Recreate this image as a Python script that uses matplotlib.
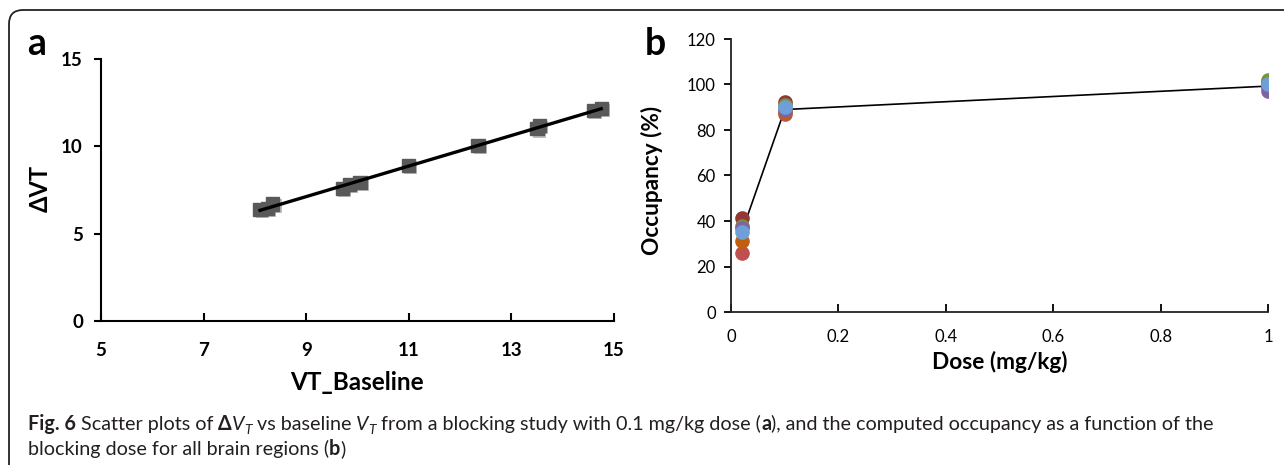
import numpy as np
import matplotlib.pyplot as plt
import matplotlib.patheffects as pe
from matplotlib.patches import FancyBboxPatch
from matplotlib.transforms import IdentityTransform

# panel a: delta VT vs baseline VT
vt_baseline = [8.1, 8.25, 8.35, 9.7, 9.85, 10.05, 11.0, 12.35, 13.5, 13.55, 14.6, 14.75]
delta_vt = [6.4, 6.45, 6.7, 7.6, 7.8, 7.95, 8.9, 10.05, 11.0, 11.2, 12.05, 12.15]

# panel b: occupancy per region vs dose
doses = [0.02, 0.1, 1.0]
region_colors = ['#953735', '#C0504D', '#C0600E', '#77933C', '#8064A2', '#6F9FD8']
occ_darkred = [41.5, 92.5, 101.0]
occ_red = [26.0, 87.0, 99.0]
occ_orange = [31.0, 88.0, 99.5]
occ_green = [38.0, 91.0, 102.0]
occ_purple = [37.0, 89.0, 97.0]
occ_blue = [35.0, 90.0, 100.0]
occ_mean = [35.0, 89.0, 99.3]

W, H = 1284, 465
fig = plt.figure(figsize=(W / 100, H / 100), dpi=100)
fig.patch.set_facecolor('white')
FONT = ['Lato', 'DejaVu Sans']
plt.rcParams['font.family'] = FONT


def px(x, y):
    return x / W, 1 - y / H


# rounded frame
frame = FancyBboxPatch((9, -40), 1320, H - 10 + 40, boxstyle='round,pad=0,rounding_size=14',
                       transform=IdentityTransform(), fill=False, ec='#222222', lw=1.3)
fig.patches.append(frame)

# ---- panel a
l, b = px(101, 321)
r, t = px(614, 59)
ax1 = fig.add_axes([l, b, r - l, t - b])
ax1.plot(vt_baseline, delta_vt, 's', ms=9.5, color='#595959', mec='#595959',
         path_effects=[pe.SimplePatchShadow(offset=(1.5, -1.5), shadow_rgbFace='0.5', alpha=0.5), pe.Normal()])
k, c = np.polyfit(vt_baseline, delta_vt, 1)
xs = np.array([min(vt_baseline), max(vt_baseline)])
ax1.plot(xs, k * xs + c, color='black', lw=2.4)
ax1.set_xlim(5, 15)
ax1.set_ylim(0, 15)
ax1.set_xticks([5, 7, 9, 11, 13, 15])
ax1.set_yticks([0, 5, 10, 15])
for s in ['top', 'right']:
    ax1.spines[s].set_visible(False)
for s in ['left', 'bottom']:
    ax1.spines[s].set_linewidth(1.5)
ax1.tick_params(axis='x', direction='in', length=6, width=1.5, pad=15, labelsize=13.5)
ax1.tick_params(axis='y', direction='out', length=5, width=1.5, pad=8, labelsize=13.5)
for lab in ax1.get_xticklabels() + ax1.get_yticklabels():
    lab.set_fontweight('bold')
x, y = px(40, 188)
fig.text(x, y, 'ΔVT', rotation=90, ha='center', va='center', fontsize=17, fontweight='bold')
x, y = px(357, 382)
fig.text(x, y, 'VT_Baseline', ha='center', va='center', fontsize=17.5, fontweight='bold')
x, y = px(37, 44)
fig.text(x, y, 'a', ha='center', va='center', fontsize=27, fontweight='bold')

# ---- panel b
l, b = px(731, 312)
r, t = px(1268, 39)
ax2 = fig.add_axes([l, b, r - l, t - b])
ax2.plot(doses, occ_mean, color='black', lw=1.2, zorder=1)
series = [occ_darkred, occ_red, occ_orange, occ_green, occ_purple, occ_blue]
for vals, col in zip(series, region_colors):
    ax2.plot(doses, vals, 'o', ms=9.5, color=col, mec=col, zorder=2)
ax2.set_xlim(0, 1)
ax2.set_ylim(0, 120)
ax2.set_xticks([0, 0.2, 0.4, 0.6, 0.8, 1])
ax2.set_xticklabels(['0', '0.2', '0.4', '0.6', '0.8', '1'])
ax2.set_yticks(range(0, 121, 20))
for s in ['top', 'right']:
    ax2.spines[s].set_visible(False)
for s in ['left', 'bottom']:
    ax2.spines[s].set_linewidth(1.3)
    ax2.spines[s].set_color('#222222')
ax2.tick_params(axis='x', direction='in', length=6, width=1.3, pad=12, labelsize=12)
ax2.tick_params(axis='y', direction='out', length=5, width=1.3, pad=6, labelsize=12)
x, y = px(652, 180)
fig.text(x, y, 'Occupancy (%)', rotation=90, ha='center', va='center', fontsize=16.3, fontweight='bold')
x, y = px(1000, 362)
fig.text(x, y, 'Dose (mg/kg)', ha='center', va='center', fontsize=16.3, fontweight='bold')
x, y = px(655, 44)
fig.text(x, y, 'b', ha='center', va='center', fontsize=27, fontweight='bold')

# ---- caption, drawn piece by piece
renderer = fig.canvas.get_renderer()
CAP = 14.2


def put_line(x0, y0, parts):
    xpos = x0
    for txt, kw in parts:
        t = fig.text(xpos / W, 1 - y0 / H, txt, va='baseline', ha='left', fontsize=CAP,
                     fontweight=kw.get('weight', 'normal'), fontstyle=kw.get('style', 'normal'),
                     color='#231f20')
        if kw.get('sub'):
            t.set_position((xpos / W, 1 - (y0 + 4) / H))
            t.set_fontsize(CAP * 0.7)
        xpos = t.get_window_extent(renderer).x1


put_line(28, 430, [
    ('Fig. 6 ', {'weight': 'bold'}),
    ('Scatter plots of ', {}),
    ('Δ', {'weight': 'bold'}),
    ('V', {'style': 'italic'}),
    ('T', {'style': 'italic', 'sub': True}),
    (' vs baseline ', {}),
    ('V', {'style': 'italic'}),
    ('T', {'style': 'italic', 'sub': True}),
    (' from a blocking study with 0.1 mg/kg dose (', {}),
    ('a', {'weight': 'bold'}),
    ('), and the computed occupancy as a function of the', {}),
])
put_line(28, 455, [
    ('blocking dose for all brain regions (', {}),
    ('b', {'weight': 'bold'}),
    (')', {}),
])

fig.savefig('out.png', dpi=100)
